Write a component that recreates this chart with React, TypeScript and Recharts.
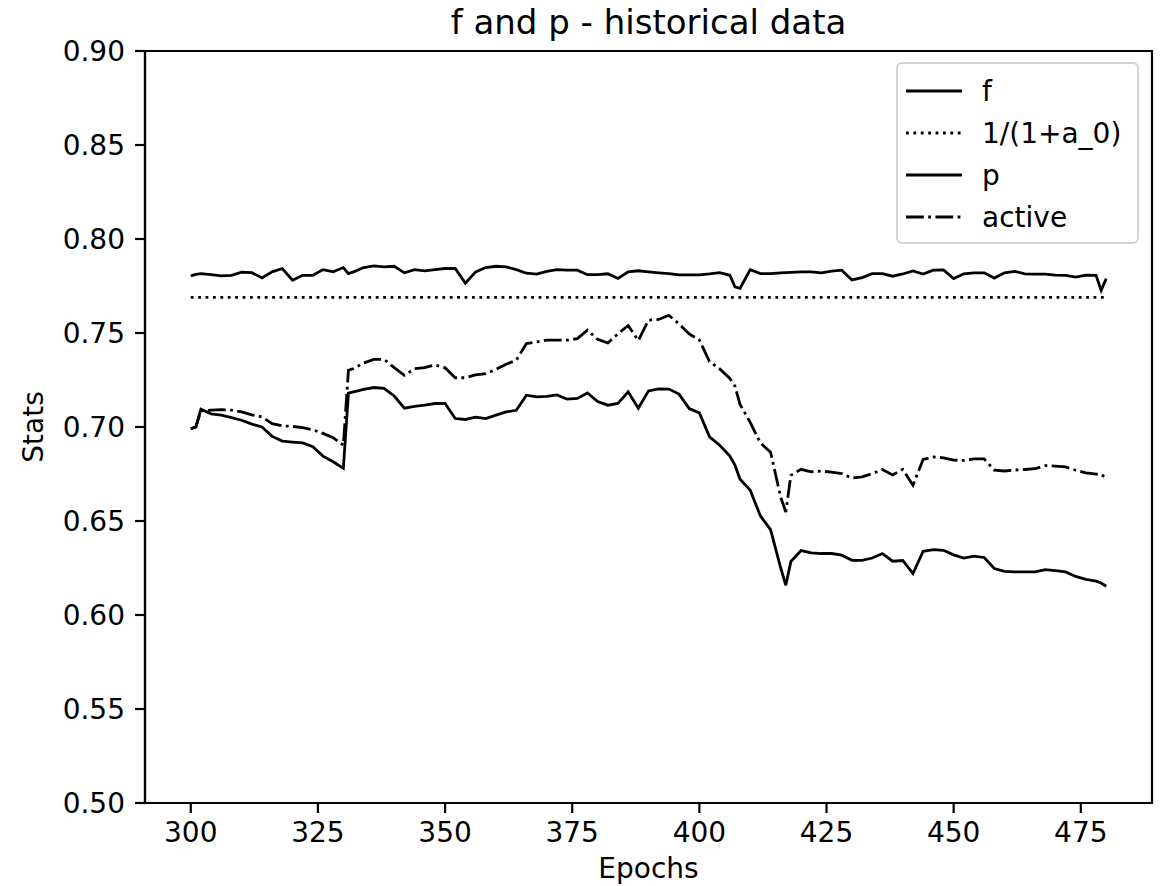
import { LineChart, Line, XAxis, YAxis, ReferenceLine, ReferenceArea } from "recharts";

const FONT = "DejaVu Sans";

// epochs sampled every 2, plus the odd ones where a jump or dip happens
const EPOCHS = [
  300, 301, 302, 304, 306, 308, 310, 312, 314, 316,
  318, 320, 322, 324, 326, 328, 330, 331, 332, 334,
  336, 338, 340, 342, 344, 346, 348, 350, 352, 354,
  356, 358, 360, 362, 364, 366, 368, 370, 372, 374,
  376, 378, 380, 382, 384, 386, 388, 390, 392, 394,
  396, 398, 400, 402, 404, 406, 407, 408, 410, 412,
  414, 416, 417, 418, 420, 422, 424, 426, 428, 430,
  432, 434, 436, 438, 440, 442, 444, 446, 448, 450,
  452, 454, 456, 458, 460, 462, 464, 466, 468, 470,
  472, 474, 476, 478, 479, 480,
];

const F_VALUES = [
  0.7804, 0.7812, 0.7816, 0.7811, 0.7804, 0.7807, 0.7823, 0.7821, 0.7793, 0.7825,
  0.7843, 0.7781, 0.7807, 0.7807, 0.7837, 0.7825, 0.7848, 0.7816, 0.7825, 0.7848,
  0.7857, 0.7852, 0.7855, 0.782, 0.7837, 0.7831, 0.7837, 0.7843, 0.7843, 0.7765,
  0.7825, 0.7848, 0.7855, 0.7852, 0.7837, 0.7818, 0.7813, 0.7828, 0.7837, 0.7834,
  0.7834, 0.781, 0.781, 0.7815, 0.779, 0.7825, 0.7831, 0.7825, 0.782, 0.7816,
  0.7809, 0.7809, 0.7809, 0.7814, 0.7821, 0.7807, 0.7745, 0.7738, 0.7837, 0.7816,
  0.7816, 0.782, 0.7821, 0.7822, 0.7825, 0.7825, 0.782, 0.7829, 0.7834, 0.7782,
  0.7795, 0.7816, 0.7816, 0.7802, 0.7814, 0.783, 0.7814, 0.7834, 0.7836, 0.779,
  0.7815, 0.782, 0.782, 0.7792, 0.782, 0.7828, 0.7815, 0.7813, 0.7813, 0.7808,
  0.7807, 0.7797, 0.7808, 0.7807, 0.7727, 0.7789,
];

const P_VALUES = [
  0.6992, 0.7, 0.7095, 0.707, 0.7063, 0.705, 0.7036, 0.7015, 0.7, 0.695,
  0.6925, 0.692, 0.6915, 0.6895, 0.6845, 0.6815, 0.678, 0.718, 0.7187, 0.72,
  0.721, 0.7205, 0.7165, 0.71, 0.711, 0.7116, 0.7125, 0.7125, 0.7045, 0.704,
  0.7052, 0.7045, 0.7063, 0.708, 0.7089, 0.7169, 0.716, 0.7163, 0.7171, 0.7148,
  0.7152, 0.7181, 0.7135, 0.7116, 0.7125, 0.7187, 0.71, 0.7192, 0.7203, 0.7202,
  0.7175, 0.7098, 0.7075, 0.6948, 0.6903, 0.6845, 0.6797, 0.6722, 0.6664, 0.6527,
  0.6454, 0.625, 0.6158, 0.6285, 0.6343, 0.633, 0.6327, 0.6327, 0.6318, 0.6291,
  0.6291, 0.6303, 0.6327, 0.6286, 0.629, 0.622, 0.6339, 0.6348, 0.6344, 0.632,
  0.6303, 0.6313, 0.6306, 0.6247, 0.6232, 0.6229, 0.6229, 0.6229, 0.6241, 0.6236,
  0.6229, 0.6205, 0.619, 0.618, 0.617, 0.6153,
];

const ACTIVE_VALUES = [
  0.699, 0.7, 0.7086, 0.709, 0.7092, 0.709, 0.708, 0.7065, 0.7054, 0.7018,
  0.7006, 0.7003, 0.6997, 0.6985, 0.6966, 0.6943, 0.6903, 0.7302, 0.7311, 0.7341,
  0.736, 0.736, 0.7316, 0.7275, 0.731, 0.7316, 0.733, 0.7315, 0.7262, 0.7262,
  0.7277, 0.7284, 0.7306, 0.7334, 0.7355, 0.7444, 0.7453, 0.7462, 0.7462, 0.7462,
  0.747, 0.7515, 0.7466, 0.7447, 0.7496, 0.754, 0.746, 0.7568, 0.7572, 0.7594,
  0.7549, 0.7495, 0.7463, 0.7348, 0.7309, 0.7258, 0.7217, 0.712, 0.7025, 0.6915,
  0.6866, 0.6626, 0.6548, 0.6743, 0.6775, 0.6762, 0.6765, 0.676, 0.6752, 0.6728,
  0.6735, 0.6752, 0.6774, 0.6745, 0.6775, 0.669, 0.6828, 0.6841, 0.6836, 0.6824,
  0.6822, 0.683, 0.683, 0.6771, 0.6766, 0.6771, 0.6774, 0.6778, 0.6795, 0.6792,
  0.6788, 0.677, 0.6756, 0.6749, 0.6749, 0.6726,
];

// 1/(1+a_0) with a_0 = 0.3
const A0_BOUND = 0.769;
const A0_RANGE = [300, 480];

const X_TICKS = [300, 325, 350, 375, 400, 425, 450, 475];
const Y_TICKS = [0.5, 0.55, 0.6, 0.65, 0.7, 0.75, 0.8, 0.85, 0.9];

const DOTTED = "2.8 4.6";
const DASHDOT = "17.8 4.4 2.8 4.4";

const LEGEND_ITEMS = [
  { label: "f", dash: undefined },
  { label: "1/(1+a_0)", dash: DOTTED },
  { label: "p", dash: undefined },
  { label: "active", dash: DASHDOT },
];

const data = EPOCHS.map((epoch, i) => ({
  epoch,
  f: F_VALUES[i],
  p: P_VALUES[i],
  active: ACTIVE_VALUES[i],
}));

const axisStroke = { stroke: "#000", strokeWidth: 2.2 };
const tickStyle = { fill: "#000", fontSize: 28, fontFamily: FONT };

function LegendBox() {
  return (
    <svg
      width={243}
      height={182}
      style={{ position: "absolute", left: 896, top: 62 }}
    >
      <rect x={1} y={1} width={241} height={180} rx={5} fill="rgba(255,255,255,0.8)" stroke="#d4d4d4" strokeWidth={2} />
      {LEGEND_ITEMS.map((item, i) => {
        const y = 29 + i * 42;
        return (
          <g key={item.label}>
            <line x1={10} x2={66} y1={y} y2={y} stroke="#000" strokeWidth={2.8} strokeDasharray={item.dash} />
            <text x={86} y={y} dominantBaseline="central" fontFamily={FONT} fontSize={28} fill="#000">
              {item.label}
            </text>
          </g>
        );
      })}
    </svg>
  );
}

export default function App() {
  return (
    <div style={{ position: "absolute", left: 0, top: 0, width: 1161, height: 886, background: "#fff" }}>
      <div
        style={{
          position: "absolute",
          left: 145,
          top: 5,
          width: 1007,
          textAlign: "center",
          fontFamily: FONT,
          fontSize: 34,
          lineHeight: 1,
          color: "#000",
        }}
      >
        f and p - historical data
      </div>
      <LineChart width={1161} height={886} data={data} margin={{ top: 51, right: 9, bottom: 0, left: 0 }}>
        <XAxis
          dataKey="epoch"
          type="number"
          domain={[291, 489]}
          ticks={X_TICKS}
          interval={0}
          height={83}
          tickSize={10}
          tickMargin={9}
          axisLine={axisStroke}
          tickLine={axisStroke}
          tick={tickStyle}
          label={{ value: "Epochs", position: "insideBottom", offset: 8, fill: "#000", fontSize: 28, fontFamily: FONT }}
        />
        <YAxis
          type="number"
          domain={[0.5, 0.9]}
          ticks={Y_TICKS}
          interval={0}
          width={145}
          tickSize={10}
          tickMargin={10}
          tickFormatter={(v: number) => v.toFixed(2)}
          axisLine={axisStroke}
          tickLine={axisStroke}
          tick={tickStyle}
          label={{
            value: "Stats",
            angle: -90,
            position: "insideLeft",
            offset: 33,
            fill: "#000",
            fontSize: 28,
            fontFamily: FONT,
            style: { textAnchor: "middle" },
          }}
        />
        <ReferenceArea x1={291} x2={489} y1={0.5} y2={0.9} fill="none" fillOpacity={0} stroke="#000" strokeWidth={2.2} ifOverflow="visible" />
        <Line dataKey="f" type="linear" stroke="#000" strokeWidth={2.8} dot={false} isAnimationActive={false} />
        <ReferenceLine
          segment={[
            { x: A0_RANGE[0], y: A0_BOUND },
            { x: A0_RANGE[1], y: A0_BOUND },
          ]}
          stroke="#000"
          strokeWidth={2.8}
          strokeDasharray={DOTTED}
        />
        <Line dataKey="p" type="linear" stroke="#000" strokeWidth={2.8} dot={false} isAnimationActive={false} />
        <Line dataKey="active" type="linear" stroke="#000" strokeWidth={2.8} strokeDasharray={DASHDOT} dot={false} isAnimationActive={false} />
      </LineChart>
      <LegendBox />
    </div>
  );
}
